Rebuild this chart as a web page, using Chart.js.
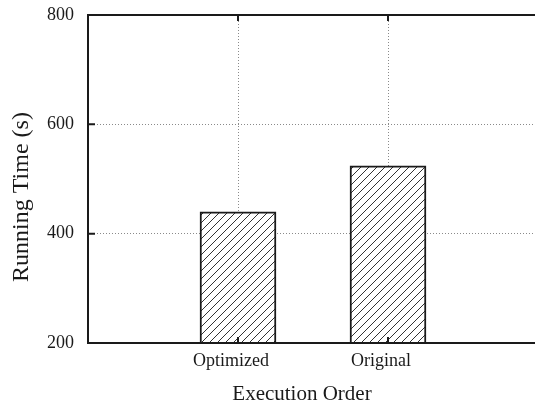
<!DOCTYPE html>
<html>
<head>
<meta charset="utf-8">
<script src="https://cdn.jsdelivr.net/npm/chart.js@4/dist/chart.umd.min.js"></script>
<style>
  html, body { margin: 0; padding: 0; overflow: hidden; background: #fff; }
  canvas { display: block; }
</style>
</head>
<body>
<canvas id="c" width="540" height="406"></canvas>
<script>
// Running time per execution order
const categories = ['Optimized', 'Original'];
const runningTime = [440, 524];
const yTicks = [200, 400, 600, 800];
const xTitle = 'Execution Order';
const yTitle = 'Running Time (s)';

// Empty slots on both sides so the two bars sit at 1/3 and 2/3 of the frame
const labels = [''].concat(categories, ['']);
const values = [null].concat(runningTime, [null]);

const FONT = "'Liberation Serif', 'Times New Roman', serif";
const INK = '#1a1a1a';

// Diagonal "/" hatch fill
function hatch() {
  const s = 8;
  const p = document.createElement('canvas');
  p.width = s; p.height = s;
  const g = p.getContext('2d');
  g.fillStyle = '#fff';
  g.fillRect(0, 0, s, s);
  g.strokeStyle = '#333';
  g.lineWidth = 1;
  g.beginPath();
  g.moveTo(-1, s + 1); g.lineTo(s + 1, -1);
  g.moveTo(-1, 1); g.lineTo(1, -1);
  g.moveTo(s - 1, s + 1); g.lineTo(s + 1, s - 1);
  g.stroke();
  return g.createPattern(p, 'repeat');
}

// Frame, inward tick marks and axis titles
const framePlugin = {
  id: 'frame',
  afterDraw(chart) {
    const { ctx, chartArea: a, scales } = chart;
    ctx.save();
    ctx.strokeStyle = INK;
    ctx.lineWidth = 2;
    ctx.beginPath();
    yTicks.forEach(v => {
      const y = scales.y.getPixelForValue(v);
      ctx.moveTo(a.left, y); ctx.lineTo(a.left + 7, y);
    });
    categories.forEach(c => {
      const x = scales.x.getPixelForValue(labels.indexOf(c));
      ctx.moveTo(x, a.top); ctx.lineTo(x, a.top + 6);
      ctx.moveTo(x, a.bottom); ctx.lineTo(x, a.bottom - 6);
    });
    ctx.stroke();
    ctx.strokeRect(a.left, a.top, a.right - a.left, a.bottom - a.top);

    ctx.fillStyle = INK;
    ctx.textAlign = 'center';
    ctx.textBaseline = 'middle';
    ctx.font = '21px ' + FONT;
    ctx.fillText(xTitle, (a.left + a.right) / 2 - 11, 394);
    ctx.translate(22, (a.top + a.bottom) / 2 + 18);
    ctx.rotate(-Math.PI / 2);
    ctx.font = '24px ' + FONT;
    ctx.fillText(yTitle, 0, 0);
    ctx.restore();
  }
};

new Chart(document.getElementById('c'), {
  type: 'bar',
  data: {
    labels: labels,
    datasets: [{
      data: values,
      backgroundColor: hatch(),
      borderColor: INK,
      borderWidth: 2,
      borderSkipped: false,
      barThickness: 76
    }]
  },
  options: {
    responsive: false,
    animation: false,
    layout: { padding: { top: 15, right: 2, left: 0, bottom: 0 } },
    plugins: { legend: { display: false }, tooltip: { enabled: false } },
    scales: {
      x: {
        offset: false,
        grid: { offset: false, color: '#8a8a8a', lineWidth: 1, drawTicks: false },
        border: { display: false, dash: [1, 2] },
        ticks: { color: INK, font: { family: FONT, size: 18 }, padding: 7, labelOffset: -7, maxRotation: 0, autoSkip: false },
        afterFit(s) { s.height = 63; s.paddingLeft = 0; s.paddingRight = 0; }
      },
      y: {
        min: 200,
        max: 800,
        afterBuildTicks(s) { s.ticks = yTicks.map(v => ({ value: v })); },
        grid: { color: '#8a8a8a', lineWidth: 1, drawTicks: false },
        border: { display: false, dash: [1, 2] },
        ticks: { color: INK, font: { family: FONT, size: 18 }, padding: 14 },
        afterFit(s) { s.width = 88; s.paddingTop = 0; s.paddingBottom = 0; }
      }
    }
  },
  plugins: [framePlugin]
});
</script>
</body>
</html>
